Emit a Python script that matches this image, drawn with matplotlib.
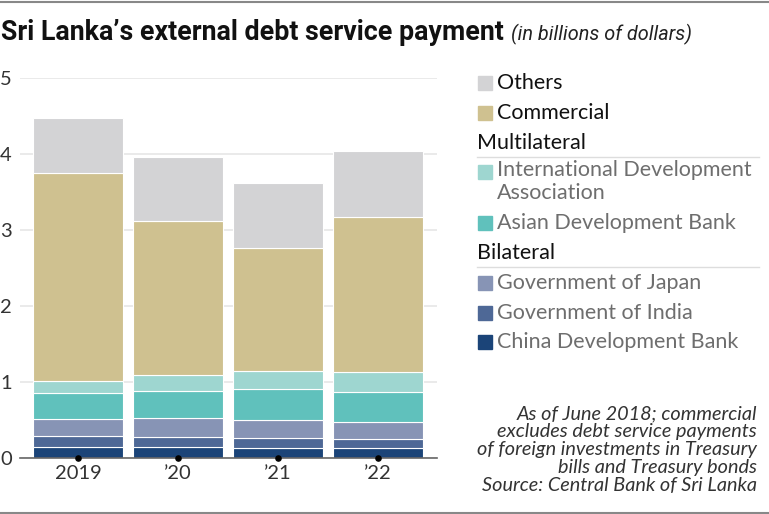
import numpy as np
import matplotlib
matplotlib.use("Agg")
import matplotlib.pyplot as plt
from matplotlib.patches import Rectangle

years = ["2019", "\u201920", "\u201921", "\u201922"]

# stacked from bottom to top, billions of dollars
china_dev_bank = [0.145, 0.14, 0.13, 0.13]
gov_india = [0.135, 0.13, 0.13, 0.11]
gov_japan = [0.225, 0.25, 0.24, 0.23]
asian_dev_bank = [0.345, 0.36, 0.40, 0.40]
intl_dev_assoc = [0.16, 0.21, 0.245, 0.26]
commercial = [2.73, 2.02, 1.61, 2.04]
others = [0.73, 0.84, 0.865, 0.87]

series = [china_dev_bank, gov_india, gov_japan, asian_dev_bank,
          intl_dev_assoc, commercial, others]
colors = ["#1b4478", "#4e6896", "#8794b5", "#60c1bc",
          "#9ed6d0", "#cfc190", "#d3d3d5"]

W, H = 769, 514
fig = plt.figure(figsize=(W / 100, H / 100), dpi=100)
plt.rcParams['font.family'] = ['Lato', 'DejaVu Sans']

def px(x, y):
    return x / W, 1 - y / H

ax_l, ax_r = 20, 437
ax_t, ax_b = 77.7, 457.7
ax = fig.add_axes([ax_l / W, 1 - ax_b / H, (ax_r - ax_l) / W, (ax_b - ax_t) / H])

x = np.arange(len(years))
bottom = np.zeros(len(years))
for vals, c in zip(series, colors):
    ax.bar(x, vals, bottom=bottom, width=0.9, color=c, edgecolor="white",
           linewidth=0.8, zorder=3)
    bottom += np.array(vals)

ax.set_xlim(-0.585, 3.595)
ax.set_ylim(0, 5)
ax.set_yticks([0, 1, 2, 3, 4, 5])
ax.yaxis.grid(True, color="#e6e6e6", linewidth=1.2, zorder=0)
ax.set_axisbelow(True)
for s in ["top", "right", "left"]:
    ax.spines[s].set_visible(False)
ax.spines["bottom"].set_color("#666666")
ax.spines["bottom"].set_linewidth(1.2)
ax.spines["bottom"].set_zorder(4)
ax.tick_params(axis="both", length=0, labelsize=14.5, colors="#333333")
ax.tick_params(axis="y", pad=0)
for lab in ax.get_yticklabels():
    lab.set_horizontalalignment("left")
    lab.set_x(-20 / (ax_r - ax_l))
ax.set_xticks(x)
ax.set_xticklabels(years)
ax.tick_params(axis="x", pad=5)
ax.scatter(x, np.zeros(len(x)), s=14, color="black", zorder=5, clip_on=False)

# title
t = fig.text(*px(1, 40), "Sri Lanka\u2019s external debt service payment",
             fontsize=19.3, fontweight="bold", family=["Roboto", "DejaVu Sans"],
             color="#111111", va="baseline")
fig.canvas.draw()
bb = t.get_window_extent()
fig.text((bb.x1 + 7) / W, 1 - 40 / H, "(in billions of dollars)", fontsize=14.3,
         style="italic", family=["Roboto", "DejaVu Sans"], color="#222222",
         va="baseline")

# frame lines
fig.add_artist(plt.Line2D([0, 1], [1 - 1.5 / H] * 2, color="#888888", lw=1.5))
fig.add_artist(plt.Line2D([0, 1], [1 - 512.5 / H] * 2, color="#888888", lw=1.5))

# legend
legend_rows = [
    ("item", "Others", colors[6], 83, "#111111"),
    ("item", "Commercial", colors[5], 113, "#111111"),
    ("head", "Multilateral", None, 143, "#111111"),
    ("item", "International Development\nAssociation", colors[4], 172, "#6e6e6e"),
    ("item", "Asian Development Bank", colors[3], 223, "#6e6e6e"),
    ("head", "Bilateral", None, 253, "#111111"),
    ("item", "Government of Japan", colors[2], 283, "#6e6e6e"),
    ("item", "Government of India", colors[1], 313, "#6e6e6e"),
    ("item", "China Development Bank", colors[0], 342, "#6e6e6e"),
]
for kind, label, c, yc, tc in legend_rows:
    if kind == "head":
        fig.text(*px(477, yc), label, fontsize=15.5, color=tc, va="center")
        fig.add_artist(plt.Line2D([477 / W, 759 / W], [1 - (yc + 14) / H] * 2,
                                  color="#dddddd", lw=1))
        continue
    fig.add_artist(Rectangle(px(478, yc + 7), 14 / W, 14 / H, color=c,
                             transform=fig.transFigure))
    if "\n" in label:
        fig.text(*px(497, yc - 12), label, fontsize=15.5, color=tc, va="top",
                 linespacing=1.2)
    else:
        fig.text(*px(497, yc), label, fontsize=15.5, color=tc, va="center")

note = ("As of June 2018; commercial\nexcludes debt service payments\n"
        "of foreign investments in Treasury\nbills and Treasury bonds\n"
        "Source: Central Bank of Sri Lanka")
fig.text(*px(757, 405), note, fontsize=14.3, style="italic", color="#333333",
         ha="right", va="top", linespacing=1.08)

fig.savefig("out.png", dpi=100)
